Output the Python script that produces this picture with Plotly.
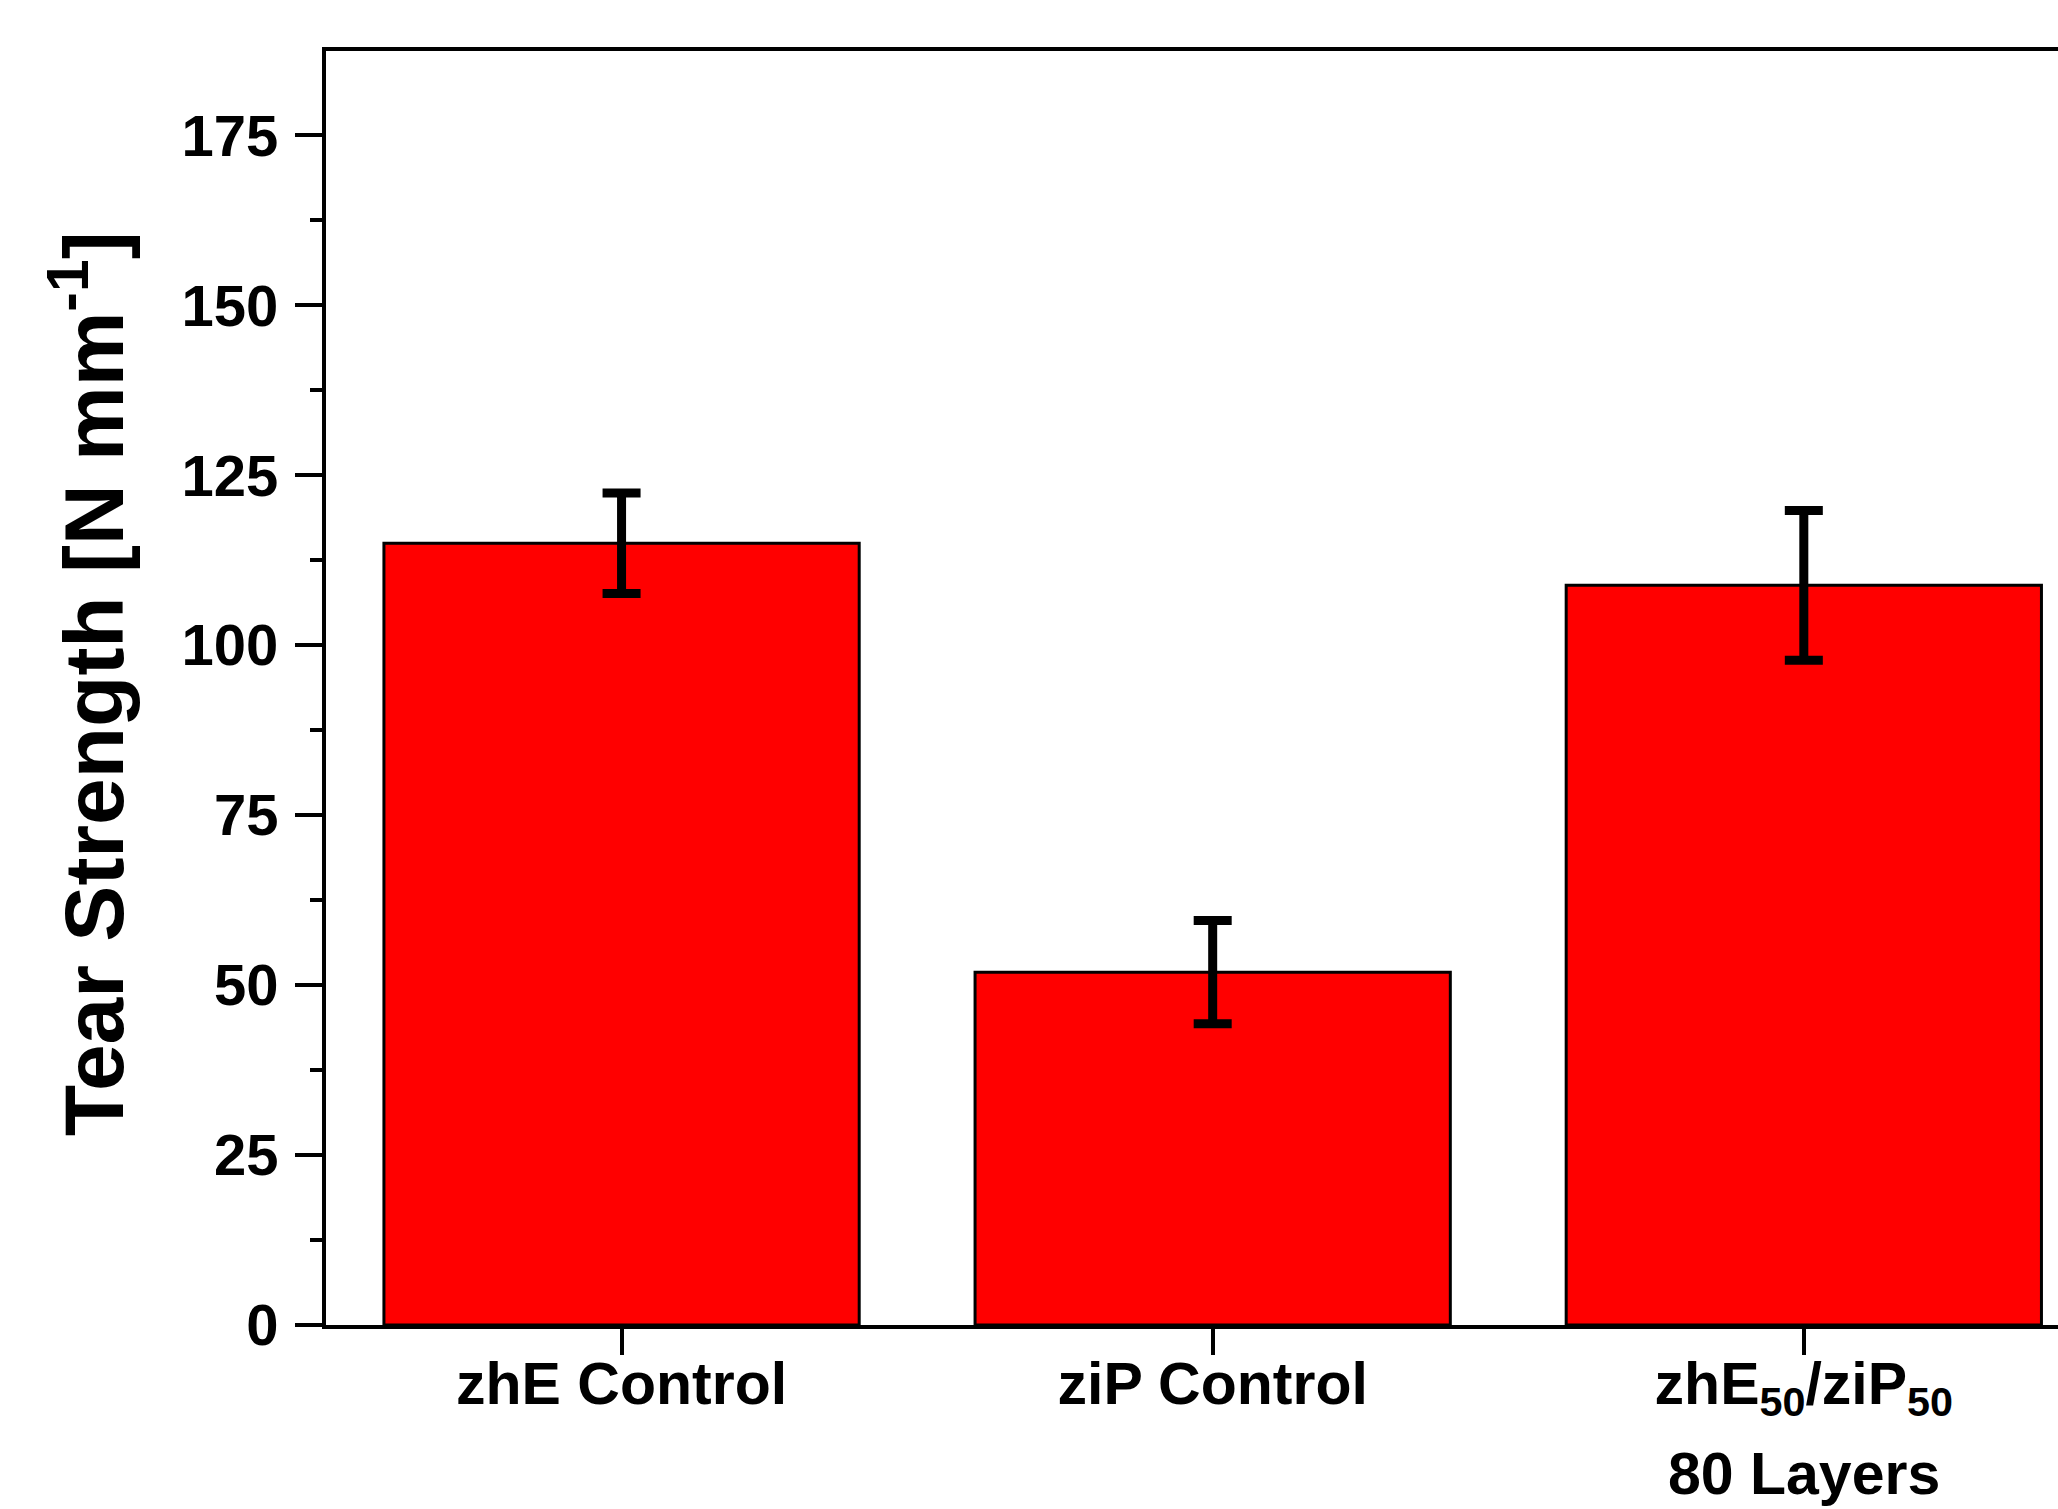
import plotly.graph_objects as go

# Tear strength of the films (mean and standard deviation)
categories = ["zhE Control", "ziP Control", "zhE50/ziP50 80 Layers"]
tick_labels = ["zhE Control", "ziP Control", "zhE<sub>50</sub>/ziP<sub>50</sub>"]
tear_strength = [115.0, 51.9, 108.8]
tear_strength_sd = [7.4, 7.6, 11.0]

FONT = "Liberation Sans, Arial, sans-serif"

fig = go.Figure()
fig.add_trace(go.Bar(
    x=categories,
    y=tear_strength,
    marker=dict(color="#FF0000", line=dict(color="black", width=3)),
    error_y=dict(type="data", array=tear_strength_sd, visible=True,
                 color="black", thickness=9, width=19),
    showlegend=False,
))

fig.update_layout(
    width=2058,
    height=1509,
    margin=dict(l=326, r=0, t=51, b=184),
    plot_bgcolor="white",
    paper_bgcolor="white",
    bargap=0.196,
    font=dict(family=FONT, color="black"),
    xaxis=dict(
        type="category",
        range=[-0.5, 2.43],
        tickmode="array",
        tickvals=categories,
        ticktext=[f"<b>{t}</b>" for t in tick_labels],
        ticks="outside",
        ticklen=26,
        tickwidth=4,
        tickcolor="black",
        tickfont=dict(family=FONT, size=59, color="black"),
        ticklabelstandoff=-22,
        showline=True,
        linecolor="black",
        linewidth=4,
        mirror=True,
        showgrid=False,
        zeroline=False,
    ),
    yaxis=dict(
        range=[0, 187.4],
        tickmode="linear",
        tick0=0,
        dtick=25,
        ticks="outside",
        ticklen=27,
        tickwidth=4,
        tickcolor="black",
        tickfont=dict(family=FONT, size=58, color="black", weight="bold"),
        ticklabelstandoff=5,
        minor=dict(ticks="outside", ticklen=12, tickwidth=4, tickcolor="black",
                   dtick=12.5, tick0=0, showgrid=False),
        showline=True,
        linecolor="black",
        linewidth=4,
        showgrid=False,
        zeroline=False,
    ),
)

# Vertical axis title
fig.add_annotation(
    text="<b>Tear Strength [N mm<sup>-1</sup>]</b>",
    xref="paper", yref="paper",
    x=(88 - 326) / (2058 - 326), y=0.503,
    xanchor="center", yanchor="middle",
    textangle=-90,
    showarrow=False,
    font=dict(family=FONT, size=84, color="black"),
)

# Second line of the third category label
fig.add_annotation(
    text="<b>80 Layers</b>",
    xref="x", yref="paper",
    x=categories[2], y=(1325 - 1474) / (1325 - 51),
    xanchor="center", yanchor="middle",
    showarrow=False,
    font=dict(family=FONT, size=59, color="black"),
)

fig.write_html("out.html")
